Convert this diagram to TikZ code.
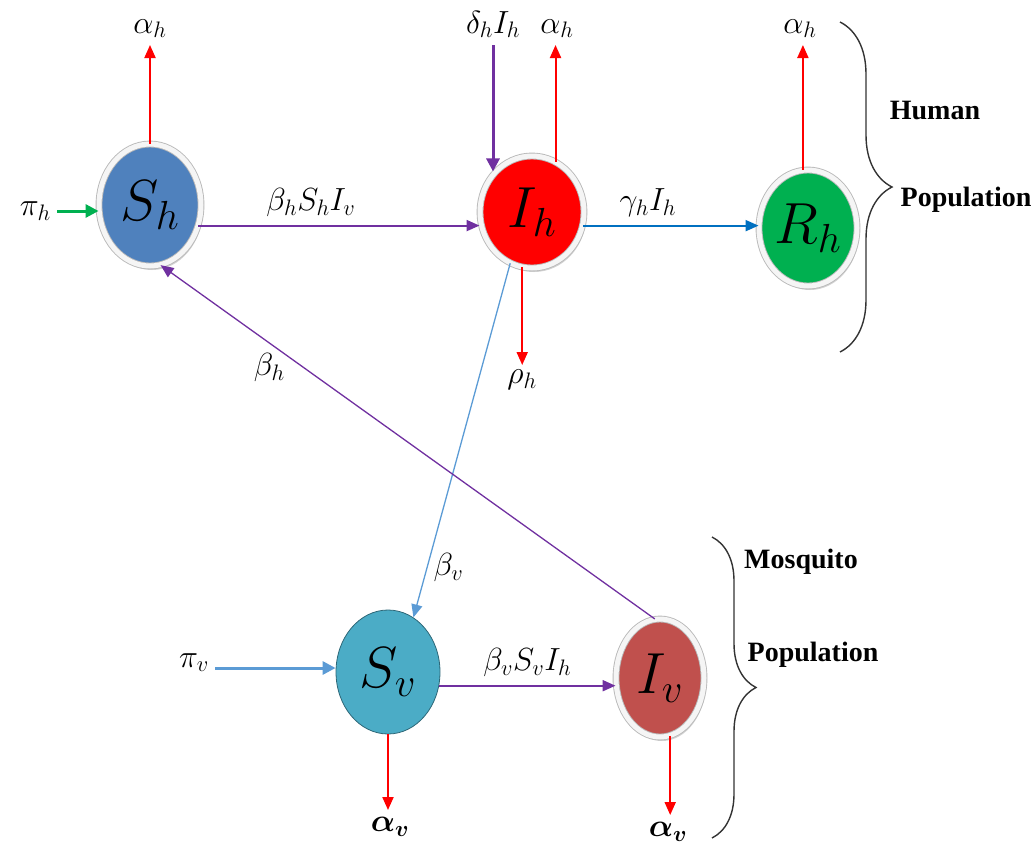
\documentclass[tikz,border=0pt]{standalone}
\usepackage{fix-cm}
\usepackage{fontspec}
\usepackage{bm}
\usetikzlibrary{arrows.meta, positioning, shapes.geometric, shadows, decorations.pathreplacing}
\newfontfamily\popfont{Liberation Serif}
\definecolor{shblue}{HTML}{4F81BD}
\definecolor{ihred}{HTML}{FF0000}
\definecolor{rhgreen}{HTML}{00B050}
\definecolor{svteal}{HTML}{4BACC6}
\definecolor{ivred}{HTML}{C0504D}
\definecolor{flowpurple}{HTML}{7030A0}
\definecolor{flowblue}{HTML}{0070C0}
\definecolor{lightblue}{HTML}{5B9BD5}
\tikzset{
  box/.style={ellipse, inner sep=0pt, font=\fontsize{58}{64}\selectfont},
  rim/.style={box, draw=gray!55, line width=0.9pt, double=gray!8, double distance=5pt,
    drop shadow={shadow xshift=2pt, shadow yshift=-4pt, opacity=.35}},
  lbl/.style={font=\fontsize{32}{36}\selectfont, inner sep=2pt},
  txt/.style={font=\popfont\bfseries\fontsize{28}{32}\selectfont},
  flow/.style={line width=2pt, -{Triangle[length=13pt,width=11pt]}},
  inflow/.style={line width=3pt, -{Triangle[length=13pt,width=13pt]}},
  brc/.style={decorate, draw=black!80, line width=1.4pt},
}

\begin{document}
\begin{tikzpicture}[x=1pt, y=-1pt]
   \useasboundingbox (0,0) rectangle (1034,852);

   % compartments
   \node (Sh)[rim, fill=shblue, minimum width=102pt, minimum height=122pt] at (150,205) {$S_h$};
   \node (Ih)[rim, fill=ihred, minimum width=104pt, minimum height=112pt] at (532,212) {$I_h$};
   \node (Rh)[rim, fill=rhgreen, minimum width=98pt, minimum height=116pt] at (808,228) {$R_h$};
   \node (Sv)[box, fill=svteal, draw=svteal!60!black, line width=0.8pt, minimum width=104pt, minimum height=124pt] at (388,672) {$S_v$};
   \node (Iv)[rim, fill=ivred, minimum width=88pt, minimum height=118pt] at (660,678) {$I_v$};

   % free ends
   \coordinate (aSh) at (150,45);
   \coordinate (dIh) at (493,45);
   \coordinate (aIh) at (557,45);
   \coordinate (aRh) at (800,45);
   \coordinate (rIh) at (522,365);
   \coordinate (pSh) at (57,211);
   \coordinate (pSv) at (215,668);
   \coordinate (aSv) at (390,810);
   \coordinate (aIv) at (668,815);

   \node (aShl)[lbl, above=5pt of aSh] {$\alpha_h$};
   \node (dIhl)[lbl, above=5pt of dIh] {$\delta_h I_h$};
   \node (aIhl)[lbl, above=5pt of aIh] {$\alpha_h$};
   \node (aRhl)[lbl, above=5pt of aRh] {$\alpha_h$};
   \node (rIhl)[lbl, below=3pt of rIh] {$\rho_h$};
   \node (pShl)[lbl, left=4pt of pSh] {$\pi_h$};
   \node (pSvl)[lbl, above left=-6pt and 4pt of pSv] {$\pi_v$};
   \node (aSvl)[lbl, below=5pt of aSv] {$\bm{\alpha_v}$};
   \node (aIvl)[lbl, below=5pt of aIv] {$\bm{\alpha_v}$};

   % flows
   \draw[flow, draw=ihred](Sh.north)--(aSh);
   \draw[flow, draw=ihred](Ih.65)--(Ih.65 |- aIh);
   \draw[flow, draw=ihred](Rh.95)--(Rh.95 |- aRh);
   \draw[flow, draw=ihred](Ih.-100)--(Ih.-100 |- rIh);
   \draw[flow, draw=ihred](Sv.south)--(Sv.south |- aSv);
   \draw[flow, draw=ihred](Iv.-80)--(Iv.-80 |- aIv);
   \draw[inflow, draw=flowpurple](dIh)--(dIh |- Ih.132);
   \draw[inflow, draw=rhgreen](pSh)--(pSh -| Sh.west);
   \draw[inflow, draw=lightblue](pSv)--(pSv -| Sv.west);

   \draw[flow, draw=flowpurple](Sh.-23)--node[lbl, pos=0.4, above=6pt]{$\beta_h S_h I_v$}(Sh.-23 -| Ih.west);
   \draw[flow, draw=flowblue](Ih.-15)--node[lbl, pos=0.37, above=6pt]{$\gamma_h I_h$}(Ih.-15 -| Rh.west);
   \draw[flow, draw=flowpurple](Sv.-15)--node[lbl, pos=0.5, above=6pt]{$\beta_v S_v I_h$}(Sv.-15 -| Iv.west);
   \draw[flow, draw=lightblue, line width=1.3pt](Ih.-113)--node[lbl, pos=0.86, right=4pt]{$\beta_v$}(Sv.65);
   \draw[flow, draw=flowpurple, line width=1.3pt](Iv.95)--node[lbl, pos=0.78, below=8pt]{$\beta_h$}(Sh.-80);

   % population braces
   \coordinate (hb1) at (840,22);
   \coordinate (hb2) at (840,352);
   \coordinate (mb1) at (712,537);
   \coordinate (mb2) at (712,838);
   \draw[brc, decoration={brace, amplitude=52pt}](hb1)--(hb2);
   \draw[brc, decoration={brace, amplitude=44pt}](mb1)--(mb2);
   \node (hum)[txt] at (935,110) {Human};
   \node (hpop)[txt] at (966,200) {Population};
   \node (mos)[txt] at (801,562) {Mosquito};
   \node (mpop)[txt] at (813,655) {Population};
\end{tikzpicture}
\end{document}
